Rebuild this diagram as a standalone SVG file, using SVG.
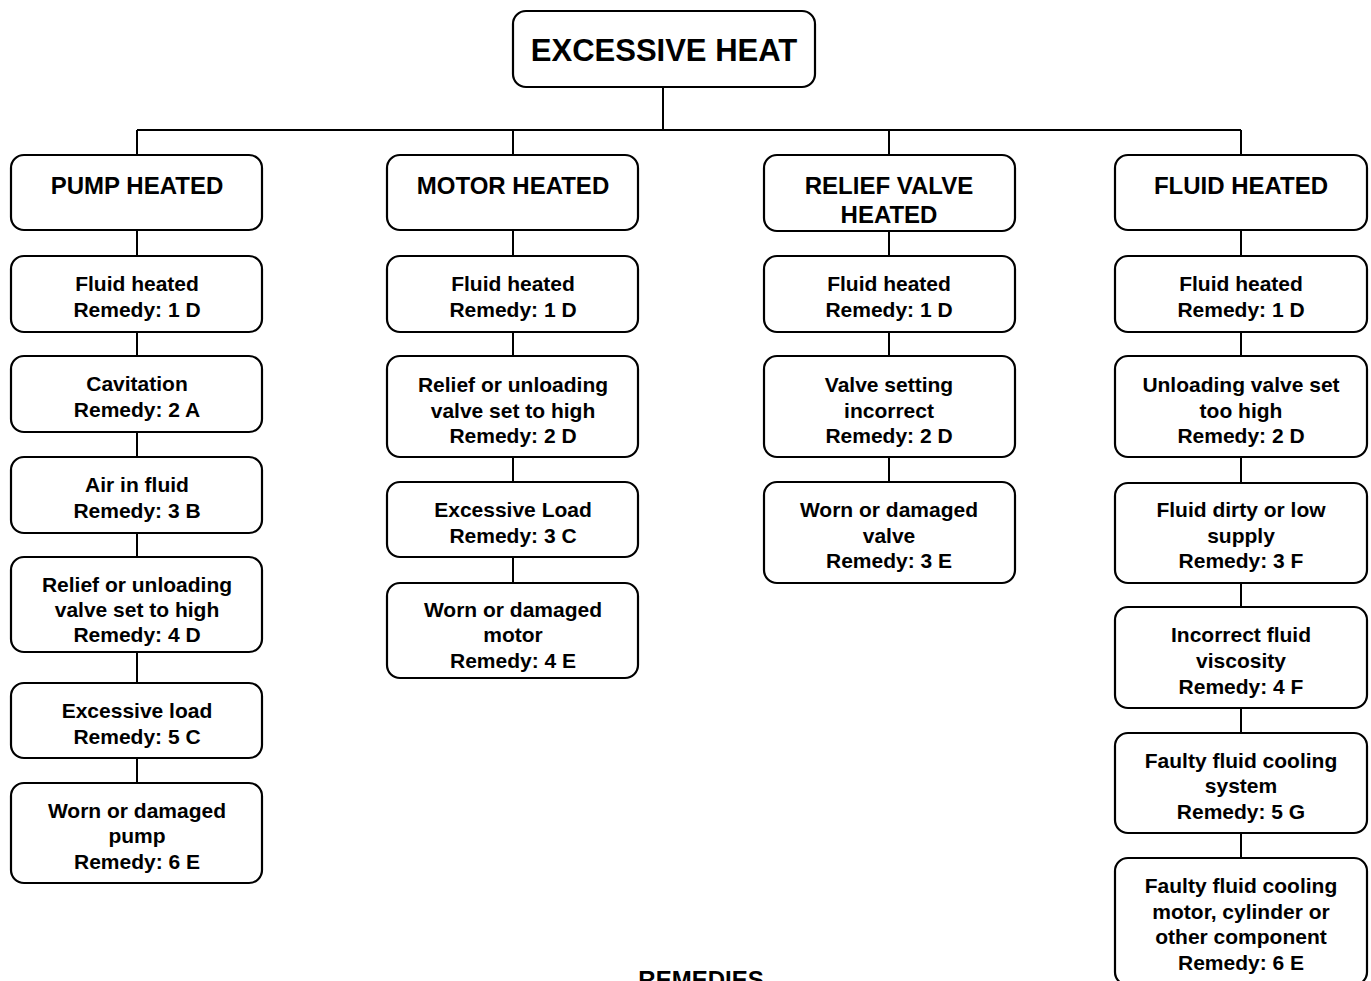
<svg xmlns="http://www.w3.org/2000/svg" width="1371" height="981" viewBox="0 0 1371 981">
<style>
.box{fill:#fff;stroke:#000;stroke-width:2.2}
.t{font-family:"Liberation Sans",Arial,sans-serif;font-weight:bold;font-size:21px;text-anchor:middle;fill:#000}
.h{font-size:24px}
.top{font-size:31px}
.c{stroke:#000;stroke-width:2;fill:none}
</style>
<rect width="1371" height="981" fill="#fff"/>
<g id="connectors">
<path class="c" d="M663,87V130M137,130H1241M137,130V155M513,130V155M889,130V155M1241,130V155"/>
<path class="c" d="M137,230V256M137,332V356M137,432V457M137,533V557M137,652V683M137,758V783"/>
<path class="c" d="M513,230V256M513,332V356M513,457V482M513,557V583"/>
<path class="c" d="M889,231V256M889,332V356M889,457V482"/>
<path class="c" d="M1241,230V256M1241,332V356M1241,457V483M1241,583V607M1241,708V733M1241,833V858"/>
</g>
<g id="root"><rect class="box" x="513" y="11" width="302" height="76" rx="13"/><text class="t top" x="664" y="61">EXCESSIVE HEAT</text></g>

<g id="pump"><rect class="box" x="11" y="155" width="251" height="75" rx="13"/><text class="t h" x="137" y="194">PUMP HEATED</text></g>
<g id="p1"><rect class="box" x="11" y="256" width="251" height="76" rx="13"/><text class="t" x="137" y="291">Fluid heated</text><text class="t" x="137" y="317">Remedy: 1 D</text></g>
<g id="p2"><rect class="box" x="11" y="356" width="251" height="76" rx="13"/><text class="t" x="137" y="391">Cavitation</text><text class="t" x="137" y="417">Remedy: 2 A</text></g>
<g id="p3"><rect class="box" x="11" y="457" width="251" height="76" rx="13"/><text class="t" x="137" y="492">Air in fluid</text><text class="t" x="137" y="518">Remedy: 3 B</text></g>
<g id="p4"><rect class="box" x="11" y="557" width="251" height="95" rx="13"/><text class="t" x="137" y="592">Relief or unloading</text><text class="t" x="137" y="617">valve set to high</text><text class="t" x="137" y="642">Remedy: 4 D</text></g>
<g id="p5"><rect class="box" x="11" y="683" width="251" height="75" rx="13"/><text class="t" x="137" y="718">Excessive load</text><text class="t" x="137" y="744">Remedy: 5 C</text></g>
<g id="p6"><rect class="box" x="11" y="783" width="251" height="100" rx="13"/><text class="t" x="137" y="818">Worn or damaged</text><text class="t" x="137" y="843">pump</text><text class="t" x="137" y="869">Remedy: 6 E</text></g>

<g id="motor"><rect class="box" x="387" y="155" width="251" height="75" rx="13"/><text class="t h" x="513" y="194">MOTOR HEATED</text></g>
<g id="m1"><rect class="box" x="387" y="256" width="251" height="76" rx="13"/><text class="t" x="513" y="291">Fluid heated</text><text class="t" x="513" y="317">Remedy: 1 D</text></g>
<g id="m2"><rect class="box" x="387" y="356" width="251" height="101" rx="13"/><text class="t" x="513" y="392">Relief or unloading</text><text class="t" x="513" y="418">valve set to high</text><text class="t" x="513" y="443">Remedy: 2 D</text></g>
<g id="m3"><rect class="box" x="387" y="482" width="251" height="75" rx="13"/><text class="t" x="513" y="517">Excessive Load</text><text class="t" x="513" y="543">Remedy: 3 C</text></g>
<g id="m4"><rect class="box" x="387" y="583" width="251" height="95" rx="13"/><text class="t" x="513" y="617">Worn or damaged</text><text class="t" x="513" y="642">motor</text><text class="t" x="513" y="668">Remedy: 4 E</text></g>

<g id="relief"><rect class="box" x="764" y="155" width="251" height="76" rx="13"/><text class="t h" x="889" y="194">RELIEF VALVE</text><text class="t h" x="889" y="223">HEATED</text></g>
<g id="r1"><rect class="box" x="764" y="256" width="251" height="76" rx="13"/><text class="t" x="889" y="291">Fluid heated</text><text class="t" x="889" y="317">Remedy: 1 D</text></g>
<g id="r2"><rect class="box" x="764" y="356" width="251" height="101" rx="13"/><text class="t" x="889" y="392">Valve setting</text><text class="t" x="889" y="418">incorrect</text><text class="t" x="889" y="443">Remedy: 2 D</text></g>
<g id="r3"><rect class="box" x="764" y="482" width="251" height="101" rx="13"/><text class="t" x="889" y="517">Worn or damaged</text><text class="t" x="889" y="543">valve</text><text class="t" x="889" y="568">Remedy: 3 E</text></g>

<g id="fluid"><rect class="box" x="1115" y="155" width="252" height="75" rx="13"/><text class="t h" x="1241" y="194">FLUID HEATED</text></g>
<g id="f1"><rect class="box" x="1115" y="256" width="252" height="76" rx="13"/><text class="t" x="1241" y="291">Fluid heated</text><text class="t" x="1241" y="317">Remedy: 1 D</text></g>
<g id="f2"><rect class="box" x="1115" y="356" width="252" height="101" rx="13"/><text class="t" x="1241" y="392">Unloading valve set</text><text class="t" x="1241" y="418">too high</text><text class="t" x="1241" y="443">Remedy: 2 D</text></g>
<g id="f3"><rect class="box" x="1115" y="483" width="252" height="100" rx="13"/><text class="t" x="1241" y="517">Fluid dirty or low</text><text class="t" x="1241" y="543">supply</text><text class="t" x="1241" y="568">Remedy: 3 F</text></g>
<g id="f4"><rect class="box" x="1115" y="607" width="252" height="101" rx="13"/><text class="t" x="1241" y="642">Incorrect fluid</text><text class="t" x="1241" y="668">viscosity</text><text class="t" x="1241" y="694">Remedy: 4 F</text></g>
<g id="f5"><rect class="box" x="1115" y="733" width="252" height="100" rx="13"/><text class="t" x="1241" y="768">Faulty fluid cooling</text><text class="t" x="1241" y="793">system</text><text class="t" x="1241" y="819">Remedy: 5 G</text></g>
<g id="f6"><rect class="box" x="1115" y="858" width="252" height="127" rx="13"/><text class="t" x="1241" y="893">Faulty fluid cooling</text><text class="t" x="1241" y="919">motor, cylinder or</text><text class="t" x="1241" y="944">other component</text><text class="t" x="1241" y="970">Remedy: 6 E</text></g>

<text class="t h" x="701" y="988">REMEDIES</text>
</svg>
